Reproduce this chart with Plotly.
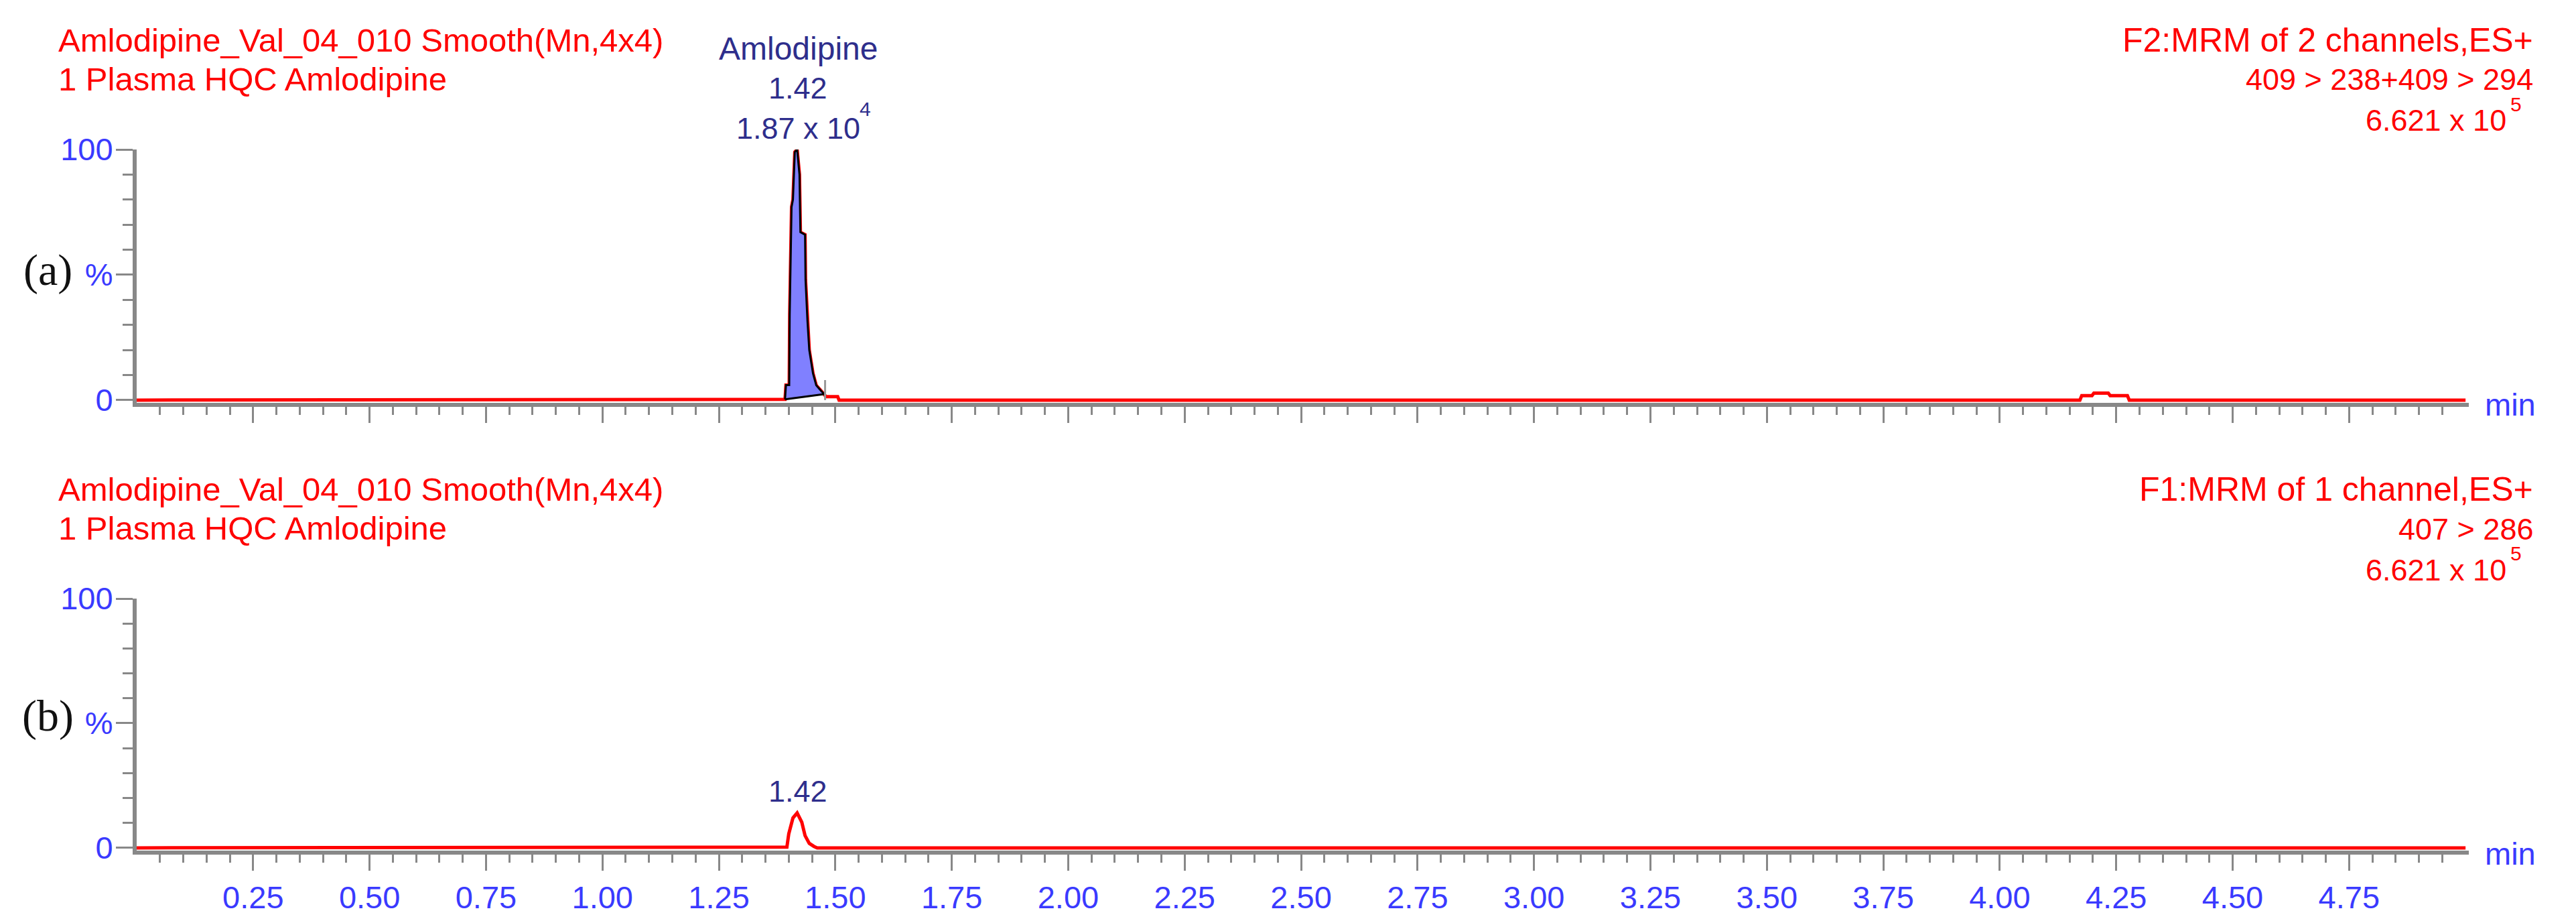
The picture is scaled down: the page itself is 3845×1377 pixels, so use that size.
import plotly.graph_objects as go

# Chromatogram (a): F2 MRM trace, time in min, intensity in %
top_time = [0.000, 1.385, 1.392, 1.394, 1.401, 1.402, 1.406, 1.409, 1.413, 1.418,
            1.423, 1.425, 1.435, 1.436, 1.440, 1.444, 1.452, 1.459, 1.468, 1.476,
            1.480, 1.505, 1.508, 4.172, 4.176, 4.198, 4.202, 4.233, 4.237, 4.274,
            4.278, 5.000]
top_int = [0.0, 0.0, 0.3, 6.0, 6.0, 34.0, 77.0, 80.0, 99.0, 100.0,
           90.0, 67.0, 66.0, 48.0, 32.0, 20.0, 10.7, 5.9, 4.0, 2.4,
           1.4, 1.4, 0.0, 0.0, 1.8, 1.8, 2.8, 2.8, 1.8, 1.8,
           0.0, 0.0]

# integrated Amlodipine peak (shaded area)
peak_time = [1.392, 1.394, 1.401, 1.402, 1.406, 1.409, 1.413, 1.418, 1.423, 1.425,
             1.435, 1.436, 1.440, 1.444, 1.452, 1.459, 1.468, 1.476, 1.392]
peak_int = [0.3, 6.0, 6.0, 34.0, 77.0, 80.0, 99.0, 100.0, 90.0, 67.0,
            66.0, 48.0, 32.0, 20.0, 10.7, 5.9, 4.0, 2.4, 0.3]
peak_end = 1.478

# Chromatogram (b): F1 MRM trace
bot_time = [0.000, 1.396, 1.400, 1.409, 1.418, 1.428, 1.435, 1.444, 1.454, 1.461, 5.000]
bot_int = [0.0, 0.3, 5.6, 12.0, 14.0, 10.3, 4.9, 1.8, 0.6, 0.0, 0.0]

major_ticks = [0.25, 0.50, 0.75, 1.00, 1.25, 1.50, 1.75, 2.00, 2.25, 2.50,
               2.75, 3.00, 3.25, 3.50, 3.75, 4.00, 4.25, 4.50, 4.75]
major_labels = ["%.2f" % v for v in major_ticks]
minor_ticks = [round(i * 0.05, 2) for i in range(1, 100) if i % 5 != 0]

W, H = 3845, 1377
RED = "#ff0000"
BLUE = "#3a3aff"
NAVY = "#2e2e8c"
GREY = "#888888"
FONT = "Liberation Sans, Arial, sans-serif"
SERIF = "Liberation Serif, Times New Roman, serif"

fig = go.Figure()

fig.add_trace(go.Scatter(x=top_time, y=top_int, mode="lines",
                         line=dict(color=RED, width=5), xaxis="x", yaxis="y"))
fig.add_trace(go.Scatter(x=peak_time, y=peak_int, mode="lines", fill="toself",
                         fillcolor="#8080ff", line=dict(color="#000000", width=3),
                         xaxis="x", yaxis="y"))
fig.add_trace(go.Scatter(x=bot_time, y=bot_int, mode="lines",
                         line=dict(color=RED, width=5), xaxis="x2", yaxis="y2"))

# integration end marker
fig.add_shape(type="line", xref="x", yref="y", x0=peak_end, x1=peak_end, y0=0, y1=8,
              line=dict(color="#999999", width=3))


def px(x):
    return x / W


def py(y):
    return 1 - y / H


x_dom = [px(204), px(3685)]
common_x = dict(domain=x_dom, range=[0, 5.007], showgrid=False, zeroline=False,
                automargin=False,
                showline=True, linecolor=GREY, linewidth=6,
                ticks="outside", tickmode="array", tickvals=major_ticks,
                ticktext=major_labels, ticklen=24, tickwidth=3, tickcolor=GREY,
                minor=dict(tickmode="array", tickvals=minor_ticks, ticks="outside",
                           ticklen=12, tickwidth=3, tickcolor=GREY),
                tickfont=dict(family=FONT, size=47, color=BLUE))
common_y = dict(range=[-1.1, 100], showgrid=False, zeroline=False,
                automargin=False,
                showline=True, linecolor=GREY, linewidth=6,
                ticks="outside", tickmode="array", tickvals=[0, 50, 100],
                ticktext=["0", "%", "100"], ticklen=25, tickwidth=3, tickcolor=GREY,
                ticklabelstandoff=-5,
                minor=dict(tickmode="array", tickvals=[10, 20, 30, 40, 60, 70, 80, 90],
                           ticks="outside", ticklen=15, tickwidth=3, tickcolor=GREY),
                tickfont=dict(family=FONT, size=47, color=BLUE))

fig.update_layout(
    template="none",
    width=W, height=H,
    margin=dict(l=0, r=0, t=0, b=0, autoexpand=False),
    paper_bgcolor="white", plot_bgcolor="white",
    showlegend=False,
    xaxis=dict(common_x, anchor="y", showticklabels=False),
    yaxis=dict(common_y, anchor="x", domain=[py(601), py(223)]),
    xaxis2=dict(common_x, anchor="y2", showticklabels=True),
    yaxis2=dict(common_y, anchor="x2", domain=[py(1269), py(893)]),
)


def note(text, x, y, xanchor="left", color=RED, size=45, family=FONT, xref="paper"):
    fig.add_annotation(text=text, x=x if xref != "paper" else px(x), y=py(y),
                       xref=xref, yref="paper", xanchor=xanchor, yanchor="middle",
                       showarrow=False, font=dict(family=family, size=size, color=color))


# header texts of each panel (second panel sits 670 px lower)
for dy, right1, right2 in [(0, "F2:MRM of 2 channels,ES+", "409 > 238+409 > 294"),
                           (670, "F1:MRM of 1 channel,ES+", "407 > 286")]:
    note("Amlodipine_Val_04_010 Smooth(Mn,4x4)", 85, 60 + dy, size=49)
    note("1 Plasma HQC Amlodipine", 85, 118 + dy, size=49)
    note(right1, 3783, 60 + dy, xanchor="right", size=50)
    note(right2, 3783, 119 + dy, xanchor="right")
    note("6.621 x 10", 3743, 180 + dy, xanchor="right")
    note("5", 3745, 156 + dy, size=30)
    note("min", 3707, 603 + dy, color=BLUE, size=47)

note("(a)", 71, 403, xanchor="center", color="#111111", size=66, family=SERIF)
note("(b)", 71, 1068, xanchor="center", color="#111111", size=66, family=SERIF)

# peak labels
note("Amlodipine", 1.42, 72, xanchor="center", color=NAVY, size=48, xref="x")
note("1.42", 1.42, 132, xanchor="center", color=NAVY, xref="x")
note("1.87 x 10", 1.42, 192, xanchor="center", color=NAVY, xref="x")
note("4", 1281, 162, color=NAVY, size=30)
note("1.42", 1.42, 1180, xanchor="center", color=NAVY, xref="x2")

fig.write_html("out.html", config={"displayModeBar": False},
               post_script="document.body.style.margin='0';document.body.style.overflow='hidden';")
